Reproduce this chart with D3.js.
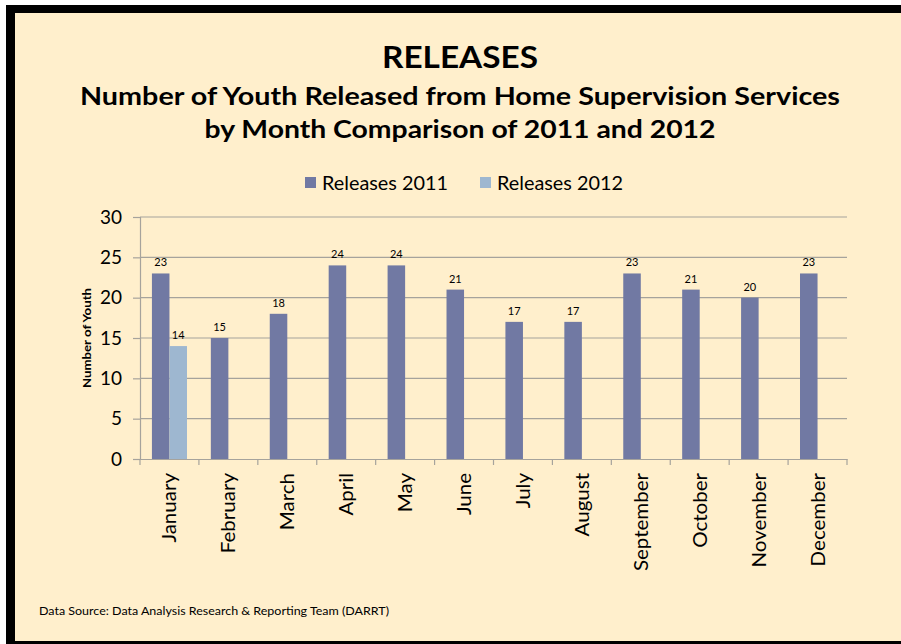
<!DOCTYPE html>
<html><head><meta charset="utf-8">
<script src="https://cdn.jsdelivr.net/npm/d3@7"></script>
<style>
html,body{margin:0;padding:0;background:#fff;}
svg{display:block;}
text{font-family:Lato,"Open Sans",sans-serif;}
</style></head>
<body><svg id="c" width="901" height="644"></svg>
<script>
const months = ["January","February","March","April","May","June","July","August","September","October","November","December"];
const releases2011 = [23,15,18,24,24,21,17,17,23,21,20,23];
const releases2012 = [14,null,null,null,null,null,null,null,null,null,null,null];
const seriesNames = ["Releases 2011","Releases 2012"];
const yTicks = [0,5,10,15,20,25,30];
const colors = ["#7179A3","#9EB7D0"];

const svg = d3.select("#c");
function stretch(sel, f){
  sel.each(function(){ const w=this.getComputedTextLength(); this.setAttribute("textLength", w*f); this.setAttribute("lengthAdjust","spacingAndGlyphs"); });
}
function fit(sel, w){ sel.attr("textLength", w).attr("lengthAdjust","spacingAndGlyphs"); }

// background + frame
svg.append("rect").attr("x",0).attr("y",0).attr("width",901).attr("height",644).attr("fill","#fff");
svg.append("rect").attr("x",6).attr("y",5).attr("width",895).attr("height",639).attr("fill","#000");
svg.append("rect").attr("x",15).attr("y",13).attr("width",886).attr("height",628).attr("fill","#FFEFCC");

const m = {l:140, r:847, t:217, b:459};
const x = d3.scaleBand().domain(months).range([m.l,m.r]).paddingInner(0).paddingOuter(0);
const xs = d3.scaleBand().domain([0,1]).range([0,x.bandwidth()]).paddingInner(0).paddingOuter(0.68);
const y = d3.scaleLinear().domain([0,30]).range([m.b,m.t]);

// gridlines
svg.append("g").selectAll("line").data(yTicks.filter(t=>t>0)).join("line")
  .attr("x1",m.l).attr("x2",m.r).attr("y1",d=>y(d)).attr("y2",d=>y(d))
  .attr("stroke","#A6A39C").attr("stroke-width",1.2);

// y axis
const yAxis = d3.axisLeft(y).tickValues(yTicks).tickSize(7).tickPadding(11);
const gy = svg.append("g").attr("transform",`translate(${m.l},0)`).call(yAxis);
gy.select(".domain").attr("stroke","#A6A39C").attr("stroke-width",1.2);
gy.selectAll(".tick line").attr("stroke","#A6A39C").attr("stroke-width",1.2);
gy.selectAll(".tick text").attr("font-size",19).attr("fill","#000").attr("font-family","Lato,sans-serif");

// bars
const data = [releases2011, releases2012];
data.forEach((arr,si)=>{
  const present = arr.map((v,i)=>({v,i})).filter(d=>d.v!=null);
  svg.append("g").selectAll("rect").data(present).join("rect")
    .attr("x",d=>x(months[d.i])+xs(si))
    .attr("width",xs.bandwidth())
    .attr("y",d=>y(d.v)).attr("height",d=>y(0)-y(d.v))
    .attr("fill",colors[si]);
  svg.append("g").selectAll("text").data(present).join("text")
    .attr("x",d=>x(months[d.i])+xs(si)+xs.bandwidth()/2)
    .attr("y",d=>y(d.v)-7)
    .attr("text-anchor","middle").attr("font-size",11).attr("fill","#000")
    .text(d=>d.v);
});

// x axis
const xAxis = d3.axisBottom(x).tickSize(0).tickFormat("");
const gx = svg.append("g").attr("transform",`translate(0,${m.b})`).call(xAxis);
gx.select(".domain").attr("stroke","#A6A39C").attr("stroke-width",1.2);
gx.selectAll(".tick").remove();
const bounds = months.map(mo=>x(mo)).concat([m.r]);
svg.append("g").selectAll("line").data(bounds).join("line")
  .attr("x1",d=>d).attr("x2",d=>d).attr("y1",m.b).attr("y2",m.b+6)
  .attr("stroke","#A6A39C").attr("stroke-width",1.2);
// month labels
const ml = svg.append("g").selectAll("text").data(months).join("text")
  .attr("transform",d=>`translate(${x(d)+x.bandwidth()/2+7},${m.b+14}) rotate(-90)`)
  .attr("text-anchor","end").attr("font-size",19).attr("fill","#000")
  .text(d=>d);
stretch(ml, 1.08);

// y axis title
const yt = svg.append("text").attr("transform",`translate(91,${(m.t+m.b)/2}) rotate(-90)`)
  .attr("text-anchor","middle").attr("font-size",12).attr("font-weight","bold").text("Number of Youth");
fit(yt, 100);

// titles
fit(svg.append("text").attr("x",460).attr("y",68).attr("text-anchor","middle")
  .attr("font-size",31).attr("font-weight","bold").text("RELEASES"), 156);
fit(svg.append("text").attr("x",460).attr("y",105).attr("text-anchor","middle")
  .attr("font-size",25).attr("font-weight","bold").text("Number of Youth Released from Home Supervision Services"), 760);
fit(svg.append("text").attr("x",460).attr("y",138).attr("text-anchor","middle")
  .attr("font-size",25).attr("font-weight","bold").text("by Month Comparison of 2011 and 2012"), 511);

// legend
const legX = [305, 480];
seriesNames.forEach((n,i)=>{
  svg.append("rect").attr("x",legX[i]).attr("y",177).attr("width",11).attr("height",11).attr("fill",colors[i]);
  fit(svg.append("text").attr("x",legX[i]+17).attr("y",190).attr("font-size",19).text(n), 126);
});

// source
fit(svg.append("text").attr("x",39).attr("y",615).attr("font-size",11).text("Data Source: Data Analysis Research & Reporting Team (DARRT)"), 350);
</script></body></html>
